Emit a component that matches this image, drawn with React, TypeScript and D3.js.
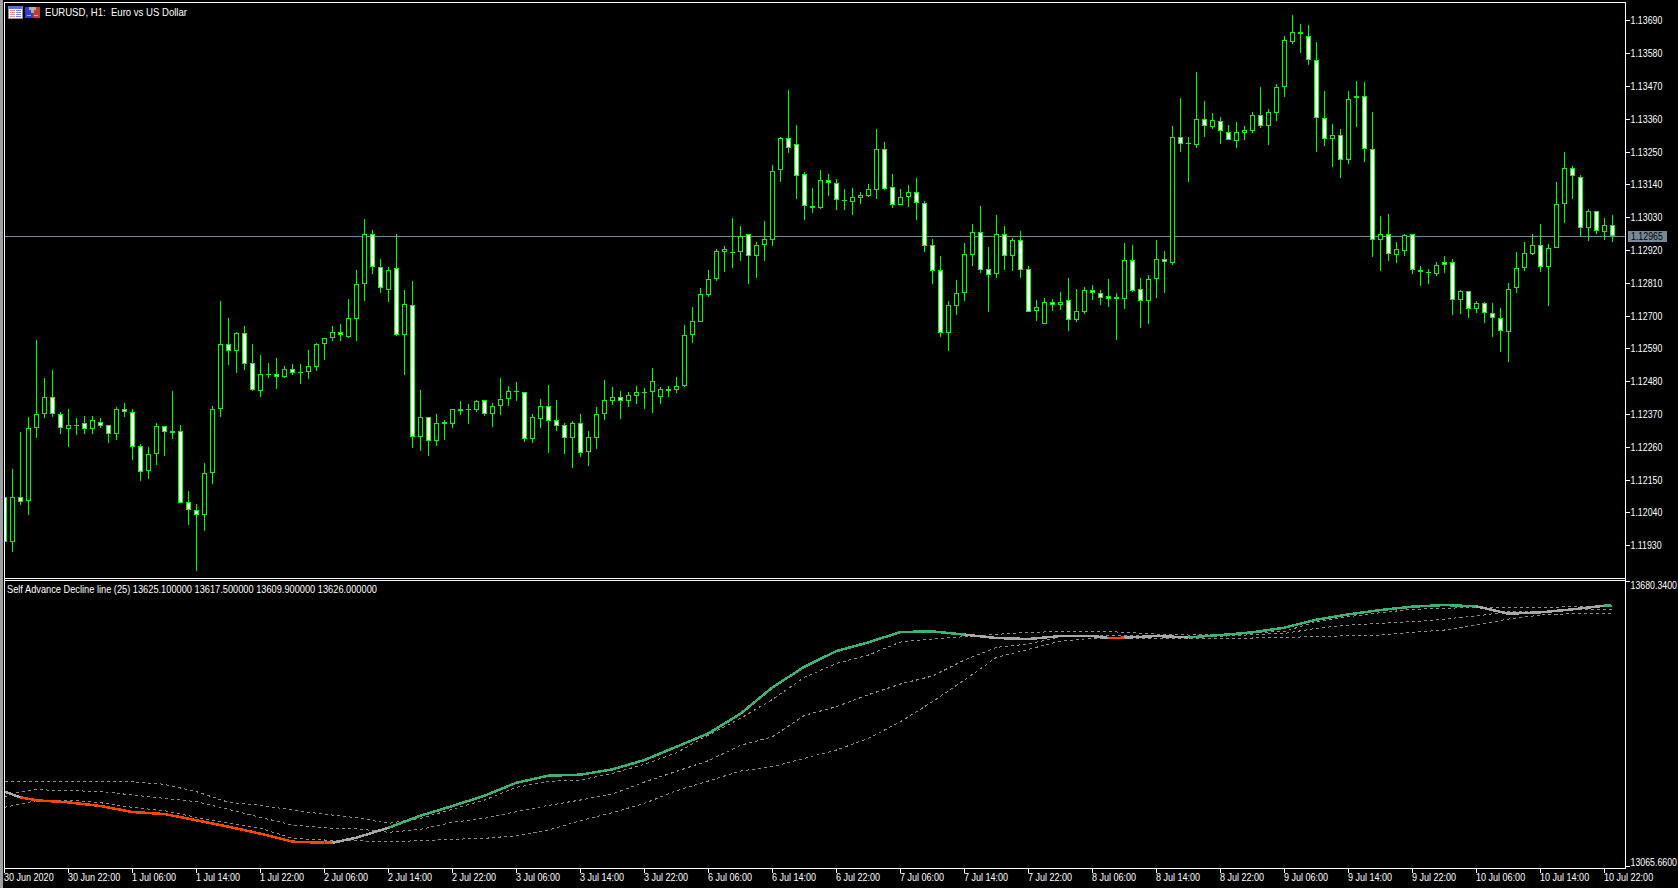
import { useEffect, useRef } from 'react';
import * as d3 from 'd3';

// prices in points, 112090 = 1.12090, one entry per H1 bar
const opens = [
  112090,111941,112090,112078,112323,112368,112428,112371,112320,112333,
  112338,112320,112344,112334,112303,112385,112378,112264,112179,112236,
  112328,112311,112311,112073,112049,112031,112172,112385,112603,112581,
  112640,112542,112447,112505,112505,112494,112519,112512,112511,112528,
  112603,112625,112646,112628,112689,112804,112972,112863,112787,112858,
  112636,112734,112293,112361,112280,112344,112337,112380,112385,112384,
  112415,112370,112397,112420,112445,112445,112286,112352,112398,112348,
  112334,112290,112338,112243,112290,112370,112414,112428,112414,112431,
  112441,112444,112427,112455,112451,112464,112635,112679,112770,112823,
  112914,112912,112914,112972,112900,112937,112954,113189,113294,113274,
  113173,113062,113061,113156,113146,113088,113082,113095,113102,113122,
  113260,113130,113072,113098,113113,113076,112935,112851,112642,112733,
  112776,112904,112979,112855,112840,112975,112900,112952,112855,112716,
  112672,112744,112736,112751,112686,112713,112784,112777,112764,112761,
  112756,112885,112788,112750,112823,112891,112876,113297,113277,113273,
  113358,113333,113351,113314,113286,113313,113320,113371,113336,113380,
  113465,113618,113650,113639,113556,113364,113291,113307,113222,113428,
  113435,113260,112952,112975,112902,112917,112972,112851,112845,112840,
  112878,112881,112751,112781,112723,112741,112710,112690,112646,112791,
  112858,112905,112935,112864,112928,113073,113193,113163,112995,113052,
  112979,113002,
];
const closes = [
  111941,112090,112075,112324,112371,112428,112370,112323,112334,112334,
  112320,112348,112330,112303,112385,112378,112259,112176,112237,112331,
  112310,112306,112072,112048,112031,112173,112388,112603,112581,112640,
  112539,112451,112505,112504,112494,112519,112508,112508,112529,112603,
  112626,112646,112633,112690,112804,112972,112863,112791,112854,112633,
  112737,112291,112361,112280,112341,112337,112385,112388,112388,112412,
  112370,112398,112420,112448,112448,112286,112358,112398,112347,112330,
  112290,112338,112239,112291,112371,112415,112428,112414,112432,112442,
  112442,112482,112455,112447,112462,112636,112680,112771,112824,112915,
  112922,112914,112968,112901,112938,112958,113186,113294,113262,113169,
  113068,113066,113156,113145,113088,113085,113096,113103,113123,113260,
  113123,113072,113099,113113,113078,112934,112850,112642,112734,112774,
  112905,112979,112853,112837,112975,112900,112952,112853,112713,112727,
  112744,112736,112744,112686,112714,112784,112776,112760,112756,112757,
  112885,112783,112750,112821,112888,112880,113297,113276,113276,113358,
  113336,113354,113320,113290,113314,113321,113371,113336,113381,113465,
  113623,113650,113643,113556,113361,113291,113307,113220,113425,113435,
  113260,112952,112975,112905,112922,112969,112851,112845,112844,112871,
  112868,112751,112781,112723,112741,112710,112690,112647,112788,112858,
  112908,112935,112861,112928,113073,113193,113167,112995,113052,112982,
  113002,112965,
];
const highs = [
  112120,112185,112308,112359,112617,112492,112517,112378,112385,112356,
  112362,112362,112356,112334,112393,112406,112385,112268,112258,112338,
  112328,112446,112334,112111,112067,112207,112395,112748,112693,112646,
  112666,112603,112569,112542,112559,112529,112539,112539,112583,112609,
  112626,112666,112671,112755,112854,113025,112986,112888,112861,112972,
  112787,112815,112450,112361,112369,112348,112388,112413,112403,112415,
  112415,112406,112490,112463,112476,112445,112369,112419,112466,112415,
  112341,112346,112368,112312,112393,112483,112460,112446,112445,112463,
  112456,112523,112460,112463,112493,112668,112728,112792,112852,112923,
  112933,113027,113000,112972,112946,113016,113204,113297,113456,113338,
  113181,113127,113188,113174,113157,113123,113127,113114,113141,113325,
  113281,113174,113123,113136,113161,113084,112956,112899,112747,112819,
  112943,113007,113067,112930,113037,113000,112960,112982,112866,112752,
  112758,112755,112779,112826,112789,112795,112802,112785,112822,112775,
  112943,112936,112826,112836,112953,112916,113335,113429,113298,113516,
  113419,113379,113366,113339,113349,113335,113382,113466,113392,113476,
  113637,113708,113677,113674,113617,113453,113342,113325,113453,113486,
  113483,113382,113033,113040,112946,112972,112972,112866,112856,112878,
  112899,112889,112785,112781,112748,112745,112742,112724,112809,112912,
  112945,112973,113007,112940,113148,113248,113201,113170,113056,113052,
  113026,113036,
];
const lows = [
  111930,111907,112064,112030,112289,112356,112359,112302,112258,112299,
  112302,112304,112322,112272,112282,112359,112215,112144,112151,112198,
  112228,112285,112070,111997,111842,111977,112134,112359,112533,112507,
  112517,112446,112426,112490,112453,112492,112500,112470,112486,112513,
  112550,112615,112614,112624,112614,112748,112839,112774,112746,112630,
  112500,112255,112245,112228,112264,112282,112322,112366,112336,112376,
  112362,112325,112366,112396,112413,112275,112272,112322,112238,112312,
  112235,112188,112225,112195,112252,112349,112399,112352,112393,112403,
  112386,112372,112403,112426,112439,112460,112607,112677,112763,112816,
  112846,112859,112882,112805,112825,112882,112933,113147,113245,113090,
  113020,113043,113057,113100,113053,113054,113037,113074,113097,113091,
  113121,113060,113070,113064,113020,112913,112805,112628,112582,112701,
  112748,112866,112842,112712,112826,112852,112849,112826,112711,112681,
  112670,112715,112718,112648,112678,112705,112752,112735,112728,112618,
  112722,112779,112658,112671,112758,112775,112869,113248,113148,113262,
  113298,113325,113275,113288,113262,113288,113312,113330,113272,113352,
  113433,113611,113581,113541,113248,113268,113199,113162,113209,113332,
  113215,112896,112849,112883,112876,112899,112839,112799,112805,112832,
  112841,112701,112705,112691,112708,112675,112628,112577,112544,112775,
  112849,112902,112846,112732,112926,113010,113091,112965,112951,112975,
  112953,112946,
];

const priceTicks = [113690,113580,113470,113360,113250,113140,113030,112920,112810,112700,112590,112480,112370,112260,112150,112040,111930];
const lastPrice = 112965;

const timeLabels = [
  '30 Jun 2020','30 Jun 22:00',
  '1 Jul 06:00','1 Jul 14:00','1 Jul 22:00',
  '2 Jul 06:00','2 Jul 14:00','2 Jul 22:00',
  '3 Jul 06:00','3 Jul 14:00','3 Jul 22:00',
  '6 Jul 06:00','6 Jul 14:00','6 Jul 22:00',
  '7 Jul 06:00','7 Jul 14:00','7 Jul 22:00',
  '8 Jul 06:00','8 Jul 14:00','8 Jul 22:00',
  '9 Jul 06:00','9 Jul 14:00','9 Jul 22:00',
  '10 Jul 06:00','10 Jul 14:00','10 Jul 22:00',
];
const barsPerLabel = 8;

// indicator, read at these bars
const adBars = [0,2,4,8,12,16,20,24,28,32,36,40,41,44,48,52,56,60,64,68,72,76,80,84,88,92,96,100,104,108,112,116,120,124,128,132,136,138,140,144,148,152,156,160,164,168,172,176,180,184,188,192,196,200,201];
const adLine = [
  13226.3,13214.1,13207.7,13203.4,13195.5,13182.6,13178.3,13164.7,13151.0,13136.0,13118.8,13116.6,13116.6,
  13127.4,13148.9,13174.7,13195.5,13217.7,13245.6,13260.7,13262.9,13274.3,13294.4,13323.0,13351.7,13394.0,
  13450.6,13495.1,13528.7,13547.4,13569.6,13571.0,13563.9,13556.7,13554.5,13561.0,13561.0,13556.7,13557.4,
  13561.0,13558.1,13563.1,13568.9,13578.9,13596.1,13607.6,13616.9,13624.1,13627.6,13624.8,13609.0,13611.9,
  13618.3,13626.2,13626.0,
];
const adUpper = [
  13247.8,13247.8,13247.8,13247.8,13247.8,13247.8,13242.1,13226.3,13203.4,13196.9,13186.9,13177.6,13176.1,
  13170.4,13158.2,13169.0,13188.3,13208.4,13235.6,13248.5,13251.4,13265.7,13285.1,13310.1,13348.1,13384.0,
  13424.8,13472.1,13502.2,13520.1,13548.1,13554.5,13559.6,13564.6,13568.9,13570.3,13570.3,13570.3,13568.9,
  13565.3,13563.1,13563.9,13568.2,13571.0,13591.8,13602.6,13611.2,13618.3,13620.5,13622.6,13622.6,13621.9,
  13624.1,13624.8,13625.1,
];
const adMid = [
  13215.5,13226.3,13230.6,13228.4,13227.0,13219.1,13212.0,13204.8,13188.3,13171.1,13154.6,13148.9,13147.5,
  13146.7,13138.9,13145.3,13160.4,13169.0,13183.3,13196.9,13208.4,13221.3,13247.1,13270.0,13292.9,13325.9,
  13344.5,13390.4,13409.1,13434.9,13457.8,13475.0,13509.4,13536.6,13543.8,13559.6,13562.4,13561.7,13562.4,
  13561.0,13559.6,13560.3,13563.9,13566.7,13577.5,13584.6,13588.2,13591.8,13597.5,13604.0,13613.3,13613.3,
  13616.9,13618.3,13617.5,
];
const adLower = [
  13192.6,13199.8,13206.9,13208.4,13202.6,13192.6,13185.4,13171.1,13159.6,13147.5,13126.0,13122.4,13120.9,
  13120.9,13118.8,13120.9,13123.8,13126.0,13131.7,13143.9,13164.0,13181.1,13201.2,13228.4,13249.2,13270.7,
  13280.0,13298.0,13315.9,13341.0,13376.8,13419.8,13466.4,13515.1,13532.3,13550.2,13556.0,13556.0,13556.0,
  13556.7,13556.0,13556.0,13556.7,13558.1,13559.6,13561.7,13563.1,13568.9,13573.9,13584.6,13597.5,13606.1,
  13609.0,13609.7,13609.9,
];
// colour of the main line between two bars
const adTrend = [
  { from: 0, to: 2, color: '#a9a9a9' },
  { from: 2, to: 41, color: '#ff4500' },
  { from: 41, to: 48, color: '#a9a9a9' },
  { from: 48, to: 120, color: '#3cb371' },
  { from: 120, to: 138, color: '#a9a9a9' },
  { from: 138, to: 140, color: '#ff4500' },
  { from: 140, to: 148, color: '#a9a9a9' },
  { from: 148, to: 184, color: '#3cb371' },
  { from: 184, to: 200, color: '#a9a9a9' },
  { from: 200, to: 201, color: '#3cb371' },
];

const adAxisMax = 13680.34;
const adAxisMin = 13065.66;
const adLegend = 'Self Advance Decline line (25) 13625.100000 13617.500000 13609.900000 13626.000000';
const chartTitle = 'EURUSD, H1:  Euro vs US Dollar';

const FONT = '"Liberation Sans", sans-serif';

// the terminal font is narrower than anything installed, so squeeze the glyphs to a given share of their width
function squeeze(sel: d3.Selection<any, any, any, any>, share: number) {
  sel.style('font-family', FONT).style('font-size', '11px');
  sel.each(function (this: SVGTextElement) {
    this.setAttribute('textLength', String(this.getComputedTextLength() * share));
    this.setAttribute('lengthAdjust', 'spacingAndGlyphs');
  });
}

export default function App() {
  const svgRef = useRef<SVGSVGElement>(null);

  useEffect(() => {
    if (!svgRef.current) return;

    const svg = d3.select(svgRef.current);
    svg.selectAll('*').remove();

    const left = 4;
    const right = 1625;
    const mainBottom = 578;
    const subTop = 580;
    const subBottom = 868;

    // Scales
    const x = d3.scaleLinear().domain([0, 201]).range([4.5, 1612.5]);
    const y = d3.scaleLinear().domain([113690, 111930]).range([20.3, 545.1]);
    const yAd = d3.scaleLinear().domain([adAxisMax, adAxisMin]).range([580.5, 866.4]);

    // Window edge
    svg.append('rect').attr('x', 0).attr('y', 0).attr('width', 3).attr('height', 888).attr('fill', '#a0a0a0');

    const defs = svg.append('defs');
    defs.append('clipPath').attr('id', 'main-clip').append('rect')
      .attr('x', left + 1).attr('y', 3).attr('width', right - left - 1).attr('height', mainBottom - 3);

    // Last price line goes under the candles
    const lastY = Math.floor(y(lastPrice));
    svg.append('rect')
      .attr('x', left).attr('y', lastY).attr('width', right - left).attr('height', 1)
      .attr('fill', '#778899');

    // Candles
    const candles = svg.append('g').attr('clip-path', 'url(#main-clip)').attr('shape-rendering', 'crispEdges');
    const bars = d3.range(opens.length);

    candles.selectAll('.wick').data(bars).enter().append('rect')
      .attr('class', 'wick')
      .attr('x', i => x(i) - 0.5)
      .attr('y', i => Math.round(y(highs[i])))
      .attr('width', 1)
      .attr('height', i => Math.round(y(lows[i])) - Math.round(y(highs[i])))
      .attr('fill', '#00ff00');

    const bodyTop = (i: number) => Math.round(y(Math.max(opens[i], closes[i])));
    const bodyHeight = (i: number) => Math.max(1, Math.round(y(Math.min(opens[i], closes[i]))) - bodyTop(i));

    candles.selectAll('.body').data(bars).enter().append('rect')
      .attr('class', 'body')
      .attr('x', i => x(i) - 2.5)
      .attr('y', bodyTop)
      .attr('width', 5)
      .attr('height', bodyHeight)
      .attr('fill', '#00ff00');

    candles.selectAll('.inner').data(bars.filter(i => bodyHeight(i) > 2)).enter().append('rect')
      .attr('class', 'inner')
      .attr('x', i => x(i) - 1.5)
      .attr('y', i => bodyTop(i) + 1)
      .attr('width', 3)
      .attr('height', i => bodyHeight(i) - 2)
      .attr('fill', i => (closes[i] >= opens[i] ? '#000' : '#fff'));

    // Indicator bands
    const indicator = svg.append('g').attr('shape-rendering', 'crispEdges');
    const line = d3.line<number>()
      .x((_, i) => x(adBars[i]))
      .y(d => yAd(d));

    [adUpper, adMid, adLower].forEach(values => {
      indicator.append('path')
        .attr('d', line(values))
        .attr('fill', 'none')
        .attr('stroke', '#8c8c8c')
        .attr('stroke-width', 1)
        .attr('stroke-dasharray', '3,3');
    });

    // Main line, one path per colour run
    const segment = d3.line<number>()
      .x(i => x(adBars[i]))
      .y(i => yAd(adLine[i]));

    adTrend.forEach(run => {
      const idx = d3.range(adBars.length).filter(i => adBars[i] >= run.from && adBars[i] <= run.to);
      indicator.append('path')
        .attr('d', segment(idx))
        .attr('fill', 'none')
        .attr('stroke', run.color)
        .attr('stroke-width', 2.5);
    });

    // Frame
    const frame = svg.append('g').attr('fill', '#fff').attr('shape-rendering', 'crispEdges');
    [2, mainBottom, subTop, subBottom].forEach(yy => {
      frame.append('rect').attr('x', left).attr('y', yy).attr('width', right - left + 1).attr('height', 1);
    });
    frame.append('rect').attr('x', left).attr('y', 2).attr('width', 1).attr('height', subBottom - 1);
    frame.append('rect').attr('x', right).attr('y', 2).attr('width', 1).attr('height', subBottom - 1);

    // Price axis
    const styleAxis = (g: d3.Selection<SVGGElement, unknown, null, undefined>) => {
      g.select('.domain').remove();
      g.selectAll('line').attr('stroke', '#fff').attr('shape-rendering', 'crispEdges');
      g.selectAll('text').attr('fill', '#fff');
      squeeze(g.selectAll('text'), 0.8);
    };

    svg.append('g')
      .attr('transform', `translate(${right + 0.5},0)`)
      .call(d3.axisRight(y)
        .tickValues(priceTicks)
        .tickSize(4)
        .tickPadding(1)
        .tickFormat(d => ((d as number) / 100000).toFixed(5)))
      .call(styleAxis);

    // The two indicator labels sit inside the panel, away from their ticks
    const adAxis = svg.append('g')
      .attr('transform', `translate(${right + 0.5},0)`)
      .call(d3.axisRight(yAd)
        .tickValues([adAxisMax, adAxisMin])
        .tickSize(4)
        .tickPadding(1)
        .tickFormat(d => (d as number).toFixed(4)))
      .call(styleAxis);
    adAxis.selectAll<SVGTextElement, number>('text')
      .attr('y', d => (d === adAxisMax ? 4 : -4));

    // Last price tag
    svg.append('rect')
      .attr('x', 1628).attr('y', lastY - 5).attr('width', 39).attr('height', 11)
      .attr('fill', '#778899');
    svg.append('text')
      .attr('x', 1631).attr('y', lastY + 4)
      .attr('fill', '#000')
      .text((lastPrice / 100000).toFixed(5))
      .call(squeeze, 0.8);

    // Time axis
    const timeAxis = svg.append('g');
    timeLabels.forEach((label, i) => {
      const tx = Math.floor(x(i * barsPerLabel));
      timeAxis.append('rect')
        .attr('x', tx).attr('y', subBottom).attr('width', 1).attr('height', 5)
        .attr('fill', '#fff').attr('shape-rendering', 'crispEdges');
      timeAxis.append('text')
        .attr('x', tx).attr('y', 881)
        .attr('fill', '#fff')
        .text(label)
        .call(squeeze, 0.82);
    });

    // Titles
    svg.append('text')
      .attr('x', 45).attr('y', 16)
      .attr('fill', '#fff')
      .style('white-space', 'pre')
      .text(chartTitle)
      .call(squeeze, 0.87);

    svg.append('text')
      .attr('x', 7).attr('y', 593)
      .attr('fill', '#fff')
      .text(adLegend)
      .call(squeeze, 0.84);

    // Toolbar icons next to the title
    const icons = svg.append('g').attr('shape-rendering', 'crispEdges');
    const box = (xx: number, yy: number, w: number, h: number, fill: string) =>
      icons.append('rect').attr('x', xx).attr('y', yy).attr('width', w).attr('height', h).attr('fill', fill);

    box(8, 6, 15, 13, '#8c8c8c');
    box(9, 6, 13, 12, '#fff');
    box(9, 6, 13, 3, '#5a6be0');
    d3.range(4).forEach(r => {
      box(10, 10 + r * 2, 5, 1, '#f08a7a');
      box(16, 10 + r * 2, 5, 1, '#6f86e8');
    });
    box(25, 7, 8, 11, '#2a3fd6');
    box(33, 7, 7, 11, '#c23a32');
    box(29, 7, 7, 3, '#b0b0b0');
    box(31, 10, 3, 3, '#b0b0b0');
    box(27, 15, 4, 1, '#9fb0ff');
    box(34, 15, 4, 1, '#f0a0a0');
  }, []);

  return (
    <svg
      ref={svgRef}
      width={1678}
      height={888}
      style={{ position: 'absolute', left: 0, top: 0, background: '#000', display: 'block' }}
    />
  );
}
